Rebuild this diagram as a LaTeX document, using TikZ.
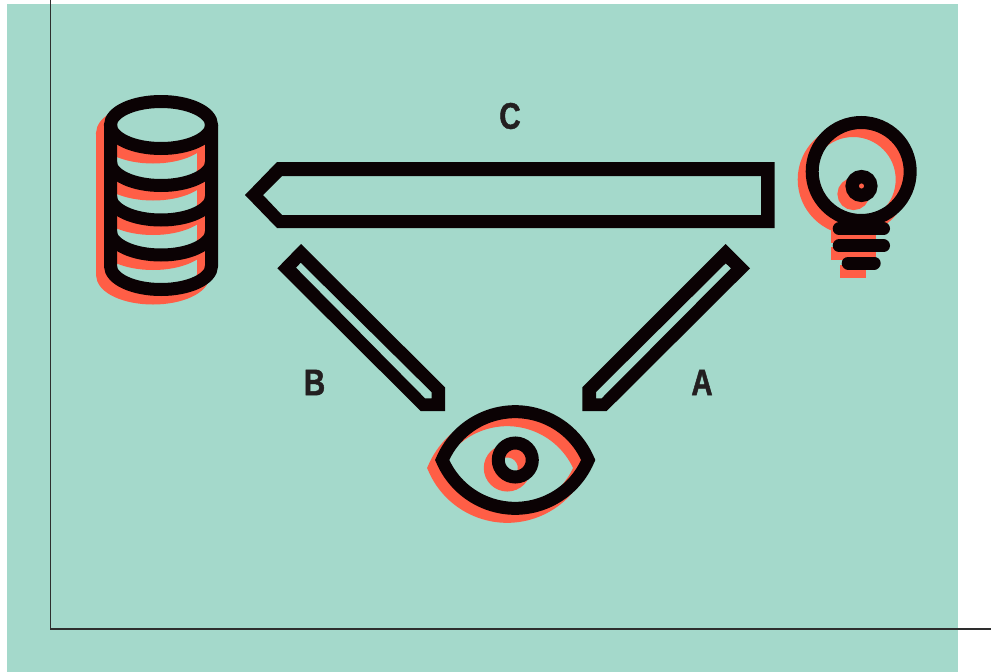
\documentclass[tikz,border=0pt]{standalone}
\usepackage{fontspec}
\newfontfamily\labelfont[FakeStretch=0.8,FakeBold=1.2]{Liberation Sans Bold}
\definecolor{panelteal}{HTML}{A4D9CB}
\definecolor{shadowred}{HTML}{FF5E46}
\definecolor{inkblack}{HTML}{0B0204}
\definecolor{labelink}{HTML}{231F20}
\definecolor{axisink}{HTML}{2E2E2E}
\tikzset{
  iconline/.style={line width=13pt,miter limit=10,line join=miter},
  iconink/.style={iconline,draw=inkblack},
  iconshadow/.style={iconline,draw=shadowred},
  blockarrow/.style={fill=inkblack,even odd rule},
  letter/.style={text=labelink,font=\labelfont\fontsize{37}{37}\selectfont,inner sep=0pt,anchor=center},
  axisline/.style={draw=axisink,line width=1.2pt}
}
\newcommand{\cylindershape}[1]{%
  \draw[#1] (110.5,125) -- (110.5,266) arc[start angle=180,end angle=360,x radius=50.5pt,y radius=23.5pt] -- (211.5,125);
  \draw[#1] (110.5,162) arc[start angle=180,end angle=360,x radius=50.5pt,y radius=23.5pt];
  \draw[#1] (110.5,196.5) arc[start angle=180,end angle=360,x radius=50.5pt,y radius=23.5pt];
  \draw[#1] (110.5,231.5) arc[start angle=180,end angle=360,x radius=50.5pt,y radius=23.5pt];
}
\newcommand{\bulbshape}[2]{%
  \draw[#1] (861.2,171.5) circle[radius=49pt];
  \draw[#1,line width=13.3pt] (861.5,186) circle[radius=9.35pt];
  \draw[#1,#2] (839.2,228.7) -- (883.5,228.7);
  \draw[#1,#2] (839.2,245.8) -- (883.5,245.8);
  \draw[#1,#2] (848.2,263) -- (874.2,263);
}
\newcommand{\eyeshape}[1]{%
  \draw[#1] (442.2,460) arc[start angle=157,end angle=23,radius=79.3pt]
     arc[start angle=-23,end angle=-157,radius=79.3pt] -- cycle;
  \draw[#1] (515.3,460) circle[radius=17pt];
}
\begin{document}
\begin{tikzpicture}[x=1pt,y=-1pt]
  \useasboundingbox (0,0) rectangle (991,672);
  \fill[white] (0,0) rectangle (991,672);
  \fill[panelteal] (7,4) rectangle (958,672);
  % axes
  \coordinate (axistop) at (50.5,0);
  \coordinate (origin) at (50.5,629);
  \coordinate (axisend) at (991,629);
  \draw[axisline] (axistop) -- (origin) -- (axisend);
  % database
  \begin{scope}[shift={(-8,8.5)}]
    \cylindershape{iconshadow}
    \draw[iconshadow] (161,125) ellipse[x radius=50.5pt,y radius=23.5pt];
  \end{scope}
  \fill[panelteal] (161,125) ellipse[x radius=50.5pt,y radius=23.5pt];
  \cylindershape{iconink}
  \draw[iconink] (161,125) ellipse[x radius=50.5pt,y radius=23.5pt];
  % bulb
  \begin{scope}[shift={(-8,8)}]
    \bulbshape{iconshadow}{line cap=butt}
  \end{scope}
  \bulbshape{iconink}{line cap=round}
  % eye
  \begin{scope}[shift={(-8,8)}]
    \eyeshape{iconshadow}
  \end{scope}
  \eyeshape{iconink}
  % block arrows
  \fill[blockarrow] (245,195) -- (277,162) -- (774.5,162) -- (774.5,228) -- (277,228) -- cycle
    (263,195) -- (282,176) -- (761,176) -- (761,215) -- (282,215) -- cycle;
  \fill[blockarrow] (301,244) -- (277.3,268.3) -- (420.7,411) -- (445,411) -- (445,387.3) -- cycle
    (300.7,262.7) -- (296,267.7) -- (425,398.3) -- (431.7,398.3) -- (431.7,392.3) -- cycle;
  \fill[blockarrow] (725.7,244) -- (750,268.3) -- (606.7,411) -- (582.3,411) -- (582.3,387.3) -- cycle
    (725.7,263.3) -- (731,268.3) -- (601.7,398.3) -- (596,398.3) -- (596,392) -- cycle;
  % labels
  \node[letter] (labelC) at (510,116) {C};
  \node[letter] (labelB) at (314.5,382.5) {B};
  \node[letter] (labelA) at (702,382.5) {A};
\end{tikzpicture}
\end{document}
